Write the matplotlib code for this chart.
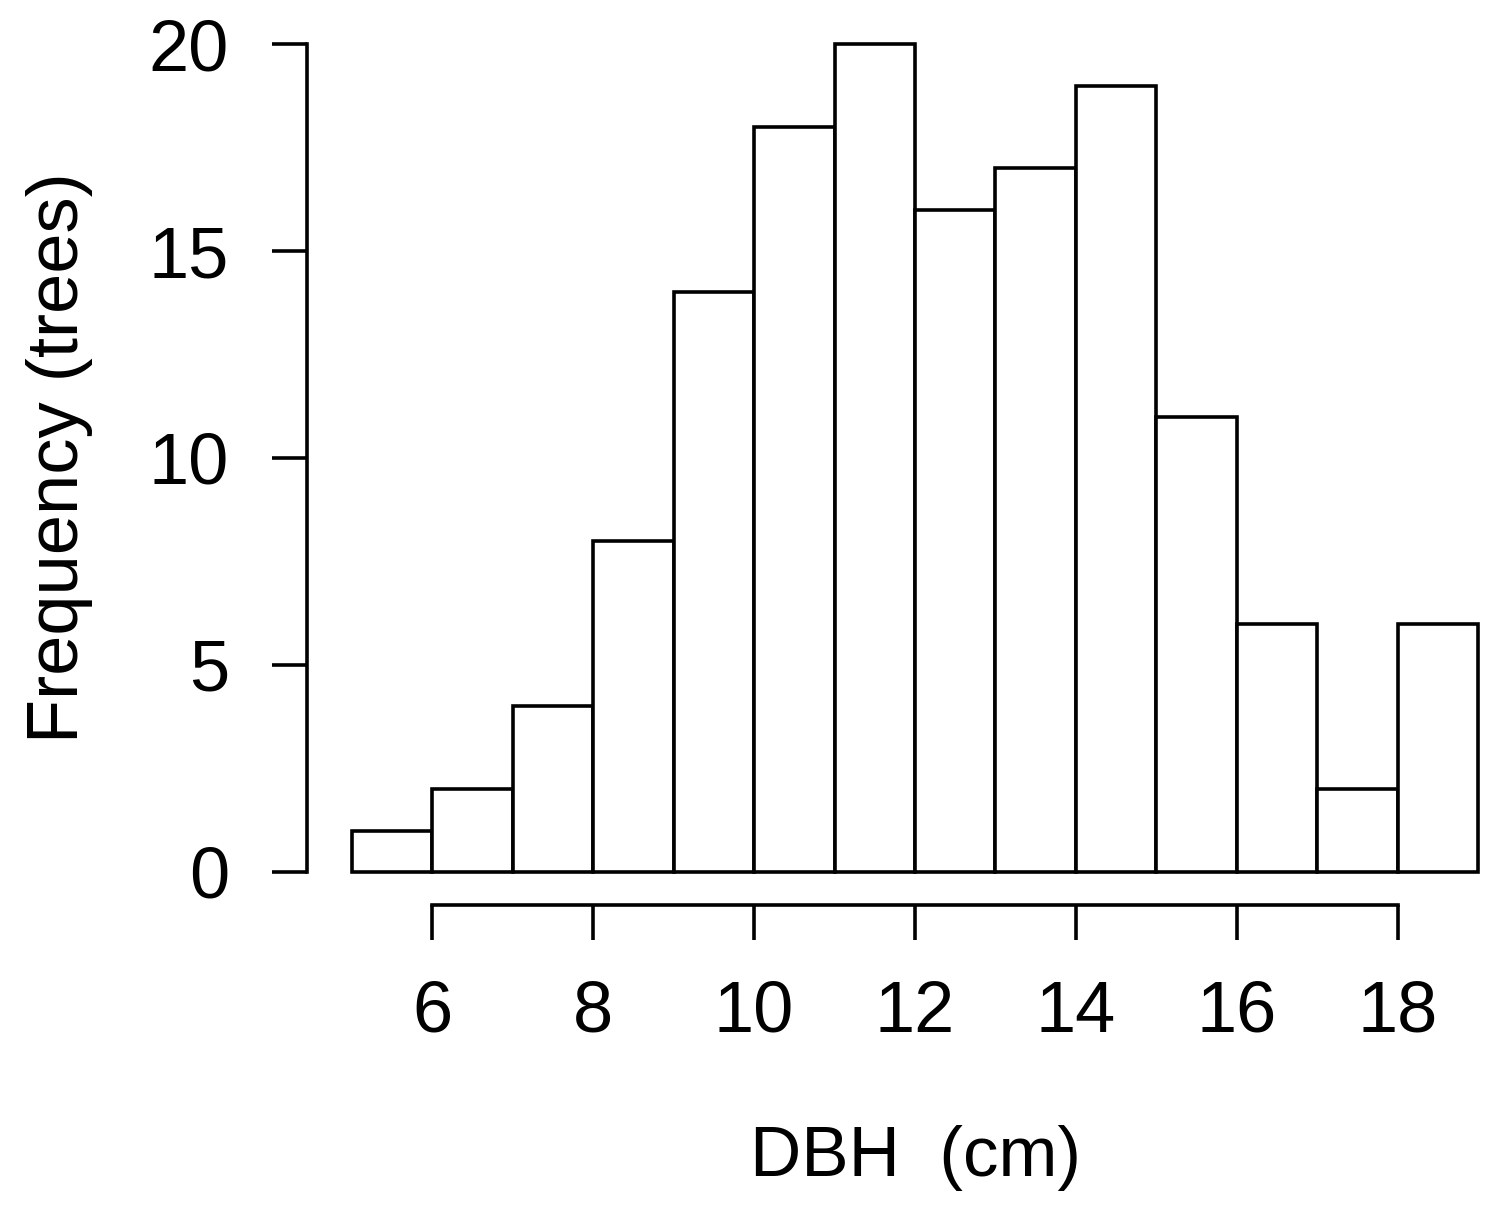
import matplotlib
matplotlib.use("Agg")
import matplotlib.pyplot as plt
import numpy as np

bin_edges = [5, 6, 7, 8, 9, 10, 11, 12, 13, 14, 15, 16, 17, 18, 19]
counts = [1, 2, 4, 8, 14, 18, 20, 16, 17, 19, 11, 6, 2, 6]
x_ticks = [6, 8, 10, 12, 14, 16, 18]
y_ticks = [0, 5, 10, 15, 20]
x_label = "DBH  (cm)"
y_label = "Frequency (trees)"

plt.rcParams['font.family'] = ['Liberation Sans', 'DejaVu Sans']

W, H = 1506, 1211
fig = plt.figure(figsize=(W / 100, H / 100), dpi=100)
# axes in pixel terms: left 307, right 1523, top 11, bottom 905
ax = fig.add_axes([307 / W, (H - 905) / H, (1523 - 307) / W, (905 - 11) / H])

lefts = np.array(bin_edges[:-1])
widths = np.diff(bin_edges)
ax.bar(lefts, counts, width=widths, align='edge', facecolor='white',
       edgecolor='black', linewidth=2.6, clip_on=False)

ax.set_xlim(4.44, 19.56)
ax.set_ylim(-0.8, 20.8)
for s in ['top', 'right']:
    ax.spines[s].set_visible(False)
ax.spines['left'].set_bounds(0, 20)
ax.spines['bottom'].set_bounds(6, 18)
for s in ['left', 'bottom']:
    ax.spines[s].set_linewidth(2.6)
    ax.spines[s].set_capstyle('projecting')

ax.set_xticks(x_ticks)
ax.set_yticks(y_ticks)
ax.set_xticklabels([str(v) for v in x_ticks])
ax.set_yticklabels([str(v) for v in y_ticks])
ax.tick_params(axis='both', length=25, width=2.6, labelsize=52, direction='out')
ax.tick_params(axis='x', pad=29)
ax.tick_params(axis='y', pad=31)

fig.text(916 / W, 1 - 1158 / H, x_label, ha='center', va='center', fontsize=51)
fig.text(60 / W, 1 - 458 / H, y_label, ha='center', va='center', rotation=90, fontsize=52)

fig.savefig("out.png", dpi=100, facecolor='white')
